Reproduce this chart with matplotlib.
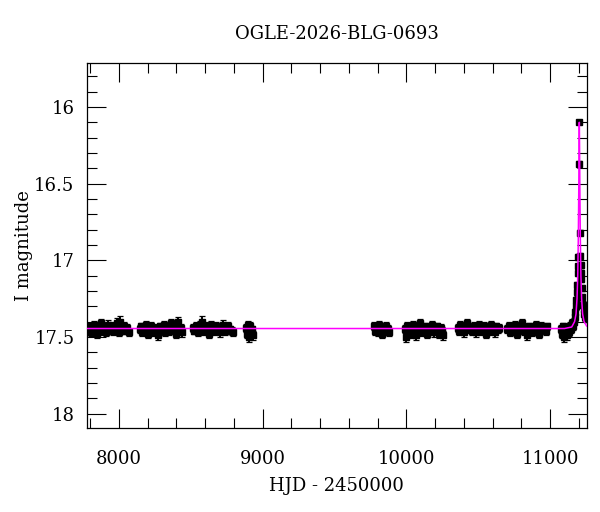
import numpy as np
import matplotlib
matplotlib.use("Agg")
import matplotlib.pyplot as plt
from matplotlib.ticker import MultipleLocator

plt.rcParams['font.family'] = ['DejaVu Serif']
plt.rcParams['mathtext.fontset'] = 'dejavuserif'

title = "OGLE-2026-BLG-0693"

# OGLE photometry, one list per observing season (HJD - 2450000, I mag, error)
s1_t = [7784, 7792, 7799, 7807, 7815, 7824, 7831, 7840, 7848, 7857, 7866, 7876, 7888, 7899,
        7911, 7924, 7936, 7949, 7961, 7974, 7986, 7999, 8006, 8019, 8032, 8044, 8057, 8070]
s1_m = [17.44, 17.46, 17.43, 17.47, 17.45, 17.42, 17.46, 17.44, 17.48, 17.43, 17.45, 17.41, 17.46, 17.44,
        17.47, 17.42, 17.45, 17.43, 17.46, 17.44, 17.41, 17.47, 17.40, 17.45, 17.43, 17.46, 17.44, 17.47]
s1_e = [0.024, 0.026, 0.022, 0.025, 0.028, 0.023, 0.025, 0.027, 0.024, 0.026, 0.022, 0.030, 0.025, 0.023,
        0.026, 0.028, 0.024, 0.025, 0.027, 0.023, 0.031, 0.025, 0.036, 0.024, 0.026, 0.023, 0.025, 0.024]

s2_t = [8147, 8156, 8164, 8173, 8182, 8191, 8201, 8212, 8224, 8236, 8249, 8261, 8273, 8286,
        8298, 8311, 8323, 8336, 8348, 8361, 8373, 8386, 8398, 8410, 8421, 8432, 8441]
s2_m = [17.45, 17.43, 17.47, 17.44, 17.46, 17.42, 17.48, 17.45, 17.43, 17.47, 17.44, 17.46, 17.49, 17.43,
        17.45, 17.42, 17.47, 17.44, 17.46, 17.41, 17.45, 17.43, 17.48, 17.40, 17.46, 17.44, 17.47]
s2_e = [0.025, 0.023, 0.026, 0.024, 0.027, 0.025, 0.028, 0.024, 0.026, 0.023, 0.025, 0.027, 0.030, 0.024,
        0.026, 0.025, 0.023, 0.027, 0.024, 0.028, 0.025, 0.026, 0.029, 0.027, 0.024, 0.025, 0.031]

s3_t = [8515, 8524, 8533, 8542, 8552, 8563, 8574, 8581, 8592, 8604, 8616, 8628, 8640, 8652,
        8664, 8676, 8688, 8700, 8712, 8724, 8736, 8748, 8760, 8772, 8784, 8797]
s3_m = [17.44, 17.46, 17.43, 17.45, 17.47, 17.42, 17.44, 17.40, 17.46, 17.43, 17.45, 17.48, 17.42, 17.44,
        17.46, 17.43, 17.45, 17.47, 17.44, 17.42, 17.46, 17.44, 17.43, 17.45, 17.46, 17.47]
s3_e = [0.025, 0.023, 0.027, 0.024, 0.026, 0.025, 0.028, 0.036, 0.024, 0.026, 0.025, 0.030, 0.027, 0.024,
        0.025, 0.029, 0.023, 0.031, 0.025, 0.030, 0.024, 0.026, 0.025, 0.023, 0.027, 0.024]

s4_t = [8884, 8890, 8896, 8902, 8908, 8914, 8920, 8926, 8932]
s4_m = [17.44, 17.48, 17.42, 17.46, 17.50, 17.43, 17.47, 17.45, 17.49]
s4_e = [0.025, 0.027, 0.024, 0.026, 0.030, 0.025, 0.028, 0.024, 0.027]

s5_t = [9776, 9784, 9792, 9801, 9810, 9820, 9830, 9840, 9850, 9861, 9872, 9882]
s5_m = [17.43, 17.46, 17.44, 17.47, 17.42, 17.45, 17.48, 17.44, 17.46, 17.43, 17.45, 17.47]
s5_e = [0.025, 0.026, 0.024, 0.025, 0.027, 0.024, 0.026, 0.025, 0.024, 0.026, 0.025, 0.024]

s6_t = [9988, 9996, 10004, 10013, 10023, 10034, 10046, 10058, 10070, 10082, 10094, 10106, 10118, 10130,
        10142, 10154, 10166, 10178, 10190, 10202, 10214, 10226, 10238, 10248, 10255]
s6_m = [17.45, 17.50, 17.43, 17.47, 17.44, 17.48, 17.42, 17.46, 17.49, 17.44, 17.41, 17.47, 17.45, 17.43,
        17.48, 17.44, 17.46, 17.42, 17.47, 17.45, 17.43, 17.48, 17.44, 17.46, 17.49]
s6_e = [0.026, 0.030, 0.025, 0.027, 0.024, 0.029, 0.026, 0.025, 0.030, 0.024, 0.027, 0.026, 0.025, 0.024,
        0.029, 0.025, 0.026, 0.027, 0.028, 0.025, 0.024, 0.029, 0.026, 0.025, 0.031]

s7_t = [10356, 10366, 10376, 10387, 10398, 10410, 10422, 10434, 10446, 10458, 10470, 10482, 10494,
        10506, 10518, 10530, 10542, 10554, 10566, 10578, 10590, 10602, 10614, 10626, 10637, 10645]
s7_m = [17.44, 17.46, 17.42, 17.45, 17.47, 17.43, 17.41, 17.45, 17.44, 17.46, 17.43, 17.47, 17.44,
        17.42, 17.46, 17.45, 17.43, 17.48, 17.44, 17.46, 17.42, 17.45, 17.47, 17.43, 17.45, 17.44]
s7_e = [0.025, 0.024, 0.026, 0.025, 0.028, 0.024, 0.026, 0.025, 0.027, 0.024, 0.025, 0.029, 0.024,
        0.026, 0.025, 0.024, 0.027, 0.030, 0.025, 0.024, 0.026, 0.025, 0.028, 0.024, 0.025, 0.026]

s8_t = [10702, 10712, 10722, 10733, 10744, 10756, 10768, 10780, 10792, 10804, 10816, 10828, 10840,
        10852, 10864, 10876, 10888, 10900, 10912, 10924, 10936, 10948, 10960, 10971, 10979]
s8_m = [17.45, 17.43, 17.47, 17.44, 17.46, 17.42, 17.48, 17.44, 17.45, 17.41, 17.46, 17.44, 17.49,
        17.43, 17.45, 17.47, 17.44, 17.42, 17.46, 17.48, 17.43, 17.45, 17.44, 17.46, 17.43]
s8_e = [0.025, 0.026, 0.024, 0.027, 0.025, 0.024, 0.029, 0.025, 0.026, 0.027, 0.024, 0.025, 0.031,
        0.024, 0.026, 0.025, 0.027, 0.024, 0.026, 0.028, 0.025, 0.024, 0.026, 0.025, 0.024]

# last season with the event
s9_t = [11078, 11085, 11092, 11099, 11106, 11113, 11120, 11127, 11134, 11140, 11146, 11152, 11158,
        11164, 11170, 11175, 11179, 11183, 11186, 11189, 11192, 11194, 11196, 11200, 11203, 11207,
        11210, 11212, 11214, 11216, 11219, 11223, 11228, 11233, 11238, 11243, 11248, 11253]
s9_m = [17.45, 17.48, 17.43, 17.50, 17.46, 17.44, 17.49, 17.45, 17.47, 17.43, 17.45, 17.41, 17.43,
        17.40, 17.37, 17.34, 17.30, 17.26, 17.21, 17.16, 17.08, 17.04, 16.98, 16.37, 16.10, 16.82,
        16.97, 17.03, 17.08, 17.12, 17.18, 17.24, 17.29, 17.32, 17.35, 17.37, 17.36, 17.38]
s9_e = [0.025, 0.027, 0.024, 0.030, 0.026, 0.025, 0.028, 0.024, 0.026, 0.025, 0.024, 0.025, 0.024,
        0.023, 0.024, 0.022, 0.022, 0.021, 0.021, 0.020, 0.020, 0.019, 0.019, 0.015, 0.014, 0.017,
        0.018, 0.019, 0.019, 0.020, 0.020, 0.021, 0.022, 0.022, 0.023, 0.023, 0.024, 0.024]

# best-fit model curve
model_t = [7700, 11100, 11150, 11170, 11180, 11187, 11192, 11196, 11199, 11201, 11203,
           11205, 11207, 11210, 11214, 11219, 11226, 11236, 11255, 11300]
model_m = [17.445, 17.445, 17.435, 17.40, 17.35, 17.25, 17.10, 16.85, 16.55, 16.30, 16.10,
           16.30, 16.55, 16.85, 17.10, 17.25, 17.35, 17.40, 17.43, 17.44]

t_all = np.concatenate([s1_t, s2_t, s3_t, s4_t, s5_t, s6_t, s7_t, s8_t, s9_t])
m_all = np.concatenate([s1_m, s2_m, s3_m, s4_m, s5_m, s6_m, s7_m, s8_m, s9_m])
e_all = np.concatenate([s1_e, s2_e, s3_e, s4_e, s5_e, s6_e, s7_e, s8_e, s9_e])

fig = plt.figure(figsize=(6.0, 5.12), dpi=100)
ax = fig.add_axes([0.145, 0.164, 0.833, 0.713])

ax.errorbar(t_all, m_all, yerr=e_all, fmt='s', ms=4.5, color='black', ecolor='black',
            elinewidth=1.4, capsize=2.5, capthick=0.9, zorder=2)
ax.plot(model_t, model_m, color='#ff00ff', lw=1.1, zorder=3)

ax.set_xlim(7778, 11255)
ax.set_ylim(18.094, 15.713)

ax.xaxis.set_major_locator(MultipleLocator(1000))
ax.xaxis.set_minor_locator(MultipleLocator(200))
ax.yaxis.set_major_locator(MultipleLocator(0.5))
ax.yaxis.set_minor_locator(MultipleLocator(0.1))
ax.yaxis.set_major_formatter(plt.FuncFormatter(lambda v, p: f"{v:g}"))

ax.tick_params(which='both', direction='in', top=True, right=True, width=0.8, labelsize=13)
ax.tick_params(which='major', length=14)
ax.tick_params(axis='x', which='major', pad=16)
ax.tick_params(axis='y', which='major', pad=9)
ax.tick_params(which='minor', length=7)
for sp in ax.spines.values():
    sp.set_linewidth(0.9)

ax.set_title(title, fontsize=13, pad=17)
ax.set_xlabel("HJD - 2450000", fontsize=13, labelpad=6)
ax.set_ylabel("I magnitude", fontsize=13, labelpad=1)

fig.savefig("out.png", dpi=100)
